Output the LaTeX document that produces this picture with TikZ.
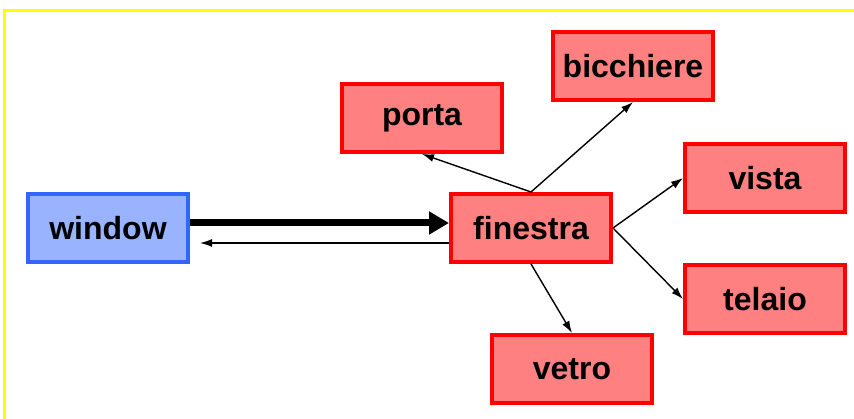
\documentclass[tikz,border=0pt]{standalone}
\usepackage{fontspec}
\setmainfont{Liberation Sans}
\usetikzlibrary{arrows.meta}

\definecolor{redfill}{HTML}{FF8080}
\definecolor{redline}{HTML}{FF0000}
\definecolor{bluefill}{HTML}{99B3FF}
\definecolor{blueline}{HTML}{3366FF}
\definecolor{frameyellow}{HTML}{FFFF00}

\begin{document}
\begin{tikzpicture}[x=1pt, y=-1pt,
	word/.style={draw, line width=4pt, minimum width=160pt, minimum height=68pt,
		font=\fontsize{32}{38}\selectfont\bfseries, inner sep=0pt},
	italian/.style={word, draw=redline, fill=redfill},
	english/.style={word, draw=blueline, fill=bluefill},
	link/.style={-{Latex[length=12pt,width=8pt]}, line width=1.4pt}]
	\useasboundingbox (0,0) rectangle (854,419);
	\draw[frameyellow, line width=3.5pt] (4.5,419) -- (4.5,10.5) -- (854,10.5);

	\node[english] (window) at (108,228) {window};
	\node[italian] (finestra) at (531,228) {finestra};

	\node[italian] (porta) at (422,118) {porta};
	\node[italian] (bicchiere) at (633,66) {bicchiere};
	\node[italian] (vista) at (765,178) {vista};
	\node[italian] (telaio) at (765,299) {telaio};
	\node[italian] (vetro) at (572,369) {vetro};

	\draw[-{Triangle[length=20pt,width=22pt]}, line width=7pt]
		([yshift=5pt]window.east) -- ([yshift=5pt]finestra.west);
	\draw[link, shorten >=10pt] ([yshift=-15pt]finestra.west) -- ([yshift=-15pt]window.east);

	\draw[link] (finestra.north) -- (porta.south);
	\draw[link] (finestra.north) -- (bicchiere.south);
	\draw[link] (finestra.east) -- (vista.west);
	\draw[link] (finestra.east) -- (telaio.west);
	\draw[link] (finestra.south) -- (vetro.north);
\end{tikzpicture}
\end{document}
